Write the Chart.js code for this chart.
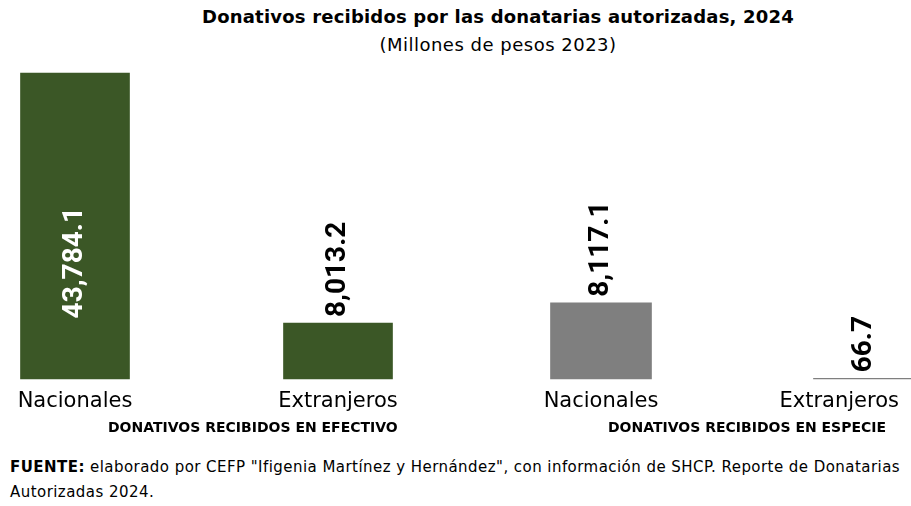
<!DOCTYPE html>
<html>
<head>
<meta charset="utf-8">
<script src="https://cdn.jsdelivr.net/npm/chart.js@4.4.1/dist/chart.umd.min.js"></script>
<style>
    body { margin: 0; background: #fff; font-family: "DejaVu Sans", sans-serif; }
    #wrap { position: absolute; left: 0; top: 0; width: 911px; height: 506px; overflow: hidden; }
    #chartBox { position: absolute; left: 0; top: 0; width: 940px; height: 426px; }
    .title { position: absolute; left: 98px; width: 800px; text-align: center; color: #000; }
    #t1 { top: 6px; font-weight: bold; font-size: 18px; letter-spacing: 0.2px; }
    #t2 { top: 34px; font-size: 18px; letter-spacing: 0.5px; }
    .group { position: absolute; top: 419px; font-weight: bold; font-size: 14px; color: #000; }
    #note { position: absolute; left: 10px; top: 455px; width: 910px; font-size: 15px; letter-spacing: 0.45px; line-height: 25px; color: #000; }
</style>
</head>
<body>
<div id="wrap">
    <div class="title" id="t1">Donativos recibidos por las donatarias autorizadas, 2024</div>
    <div class="title" id="t2">(Millones de pesos 2023)</div>
    <div id="chartBox"><canvas id="donChart"></canvas></div>
    <div class="group" style="left:108px">DONATIVOS RECIBIDOS EN EFECTIVO</div>
    <div class="group" style="left:608px">DONATIVOS RECIBIDOS EN ESPECIE</div>
    <div id="note"><b>FUENTE:</b> elaborado por CEFP "Ifigenia Martínez y Hernández", con información de SHCP. Reporte de Donatarias<br>Autorizadas 2024.</div>
</div>
<script>
const categories = ['Nacionales', 'Extranjeros', 'Nacionales', 'Extranjeros'];
const efectivo = [43784.1, 8013.2, null, null];
const especie = [null, null, 8117.1, 66.7];

const fmt = v => v.toLocaleString('en-US', { minimumFractionDigits: 1, maximumFractionDigits: 1 });
const visibleWidth = 911;

// rotated value labels: inside the tall bar, above the others
const valueLabels = {
    id: 'valueLabels',
    afterDatasetsDraw(chart) {
        const ctx = chart.ctx;
        ctx.save();
        ctx.font = 'bold 28px Roboto';
        chart.data.datasets.forEach((ds, di) => {
            chart.getDatasetMeta(di).data.forEach((bar, i) => {
                const v = ds.data[i];
                if (v === null) return;
                const txt = fmt(v);
                const w = ctx.measureText(txt).width;
                const h = bar.base - bar.y;
                ctx.save();
                ctx.translate(bar.x, 0);
                ctx.rotate(-Math.PI / 2);
                ctx.textBaseline = 'middle';
                if (h > w + 40) {
                    ctx.fillStyle = '#fff';
                    ctx.textAlign = 'center';
                    ctx.fillText(txt, -(bar.base - h * 0.38), 0);
                } else {
                    ctx.fillStyle = '#000';
                    ctx.textAlign = 'left';
                    ctx.fillText(txt, -(bar.y - 6), 0);
                }
                ctx.restore();
            });
        });
        ctx.restore();
    }
};

// category names under the bars, kept inside the visible window
const categoryLabels = {
    id: 'categoryLabels',
    afterDraw(chart) {
        const ctx = chart.ctx;
        const xScale = chart.scales.x;
        ctx.save();
        ctx.font = '21px "DejaVu Sans"';
        ctx.fillStyle = '#000';
        ctx.textAlign = 'center';
        ctx.textBaseline = 'middle';
        categories.forEach((c, i) => {
            const w = ctx.measureText(c).width;
            const x = Math.min(xScale.getPixelForValue(i), visibleWidth - 12 - w / 2);
            ctx.fillText(c, x, chart.chartArea.bottom + 23);
        });
        ctx.restore();
    }
};

new Chart(document.getElementById('donChart'), {
    type: 'bar',
    data: {
        labels: categories,
        datasets: [
            {
                label: 'Efectivo',
                data: efectivo,
                backgroundColor: '#3b5726',
                barThickness: 109,
                yAxisID: 'y',
                clip: false
            },
            {
                label: 'Especie',
                data: especie,
                backgroundColor: '#7f7f7f',
                barThickness: 101,
                yAxisID: 'y2',
                clip: false
            }
        ]
    },
    options: {
        responsive: true,
        maintainAspectRatio: false,
        animation: false,
        layout: { padding: { top: 73, left: 75, right: 76, bottom: 39 } },
        datasets: { bar: { grouped: false } },
        plugins: {
            legend: { display: false },
            tooltip: { enabled: false }
        },
        scales: {
            x: {
                offset: false,
                grid: { display: false },
                border: { display: false },
                ticks: { display: false }
            },
            y: {
                display: false,
                min: 0,
                max: Math.max(...efectivo.filter(v => v !== null))
            },
            y2: {
                display: false,
                min: 0,
                max: 32600
            }
        }
    },
    plugins: [valueLabels, categoryLabels]
});
</script>
</body>
</html>
